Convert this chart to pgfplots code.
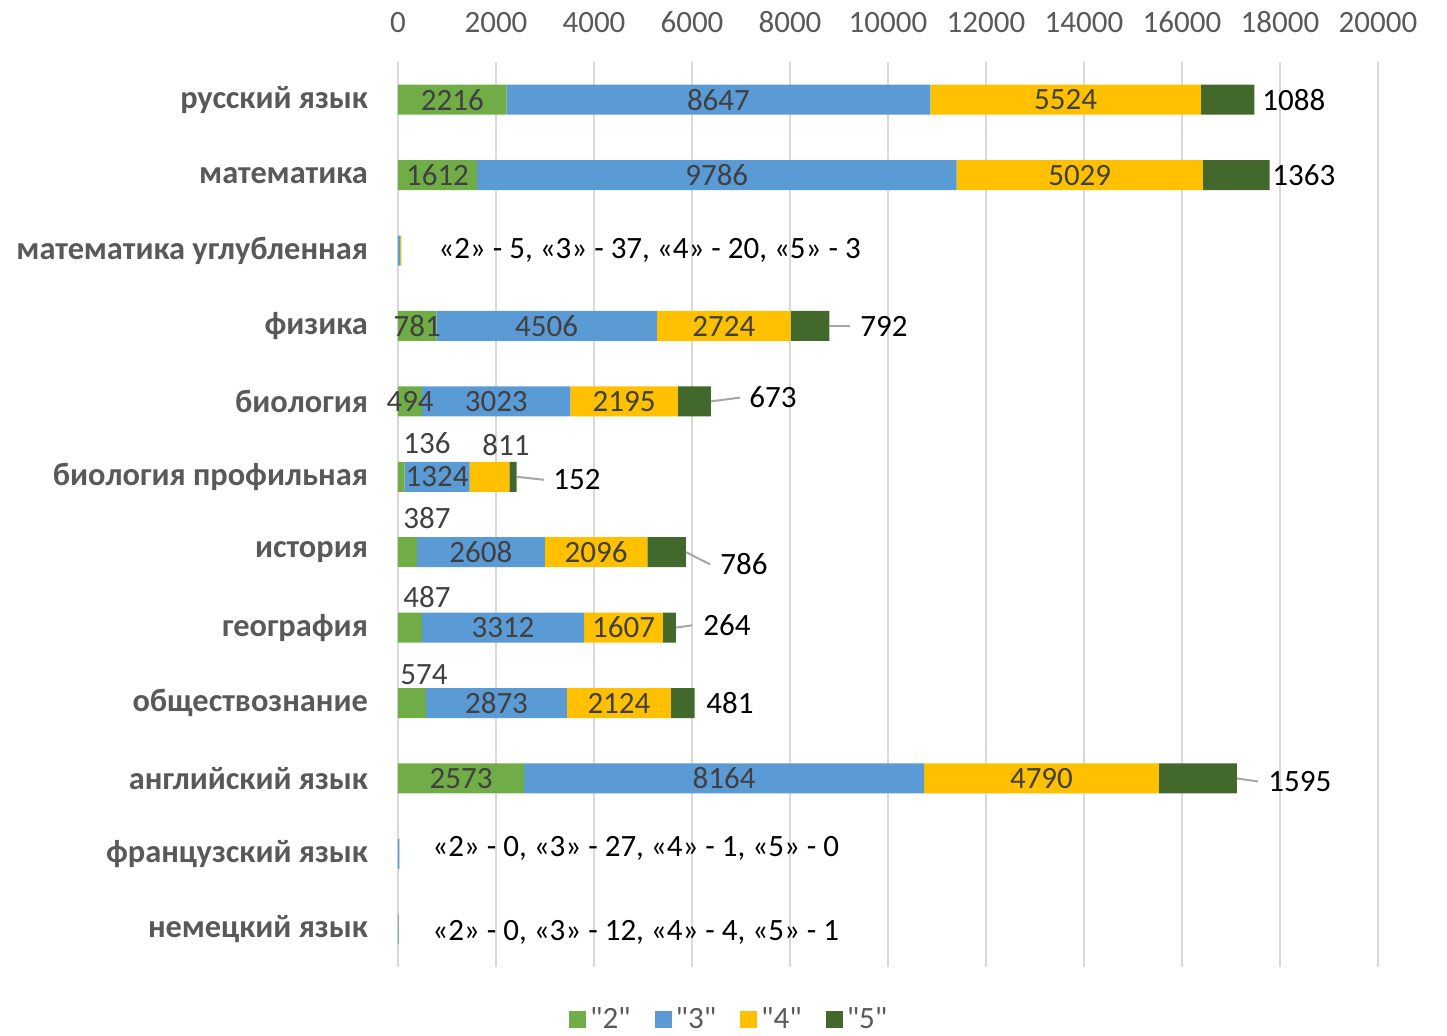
\documentclass[border=0pt]{standalone}
\usepackage{fontspec}
\setmainfont{Carlito}[Ligatures=TeXOff]
\usepackage{pgfplots}
\usepackage{pgfplotstable}
\pgfplotsset{compat=1.18}

\definecolor{cTwo}{HTML}{70AD47}
\definecolor{cThree}{HTML}{5B9BD5}
\definecolor{cFour}{HTML}{FFC000}
\definecolor{cFive}{HTML}{43682B}
\definecolor{gridc}{HTML}{D9D9D9}
\definecolor{tickc}{HTML}{595959}
\definecolor{labc}{HTML}{404040}
\definecolor{leadc}{HTML}{A6A6A6}

% marks per subject: "2" "3" "4" "5"
\pgfplotstableread{
y two three four five
0 2216 8647 5524 1088
1 1612 9786 5029 1363
2 5 37 20 3
3 781 4506 2724 792
4 494 3023 2195 673
5 136 1324 811 152
6 387 2608 2096 786
7 487 3312 1607 264
8 574 2873 2124 481
9 2573 8164 4790 1595
10 0 27 1 0
11 0 12 4 1
}\marks

% label positions (centre of segment)
\pgfplotstableread{
x y label
1108 0 2216
6539.5 0 8647
13625 0 5524
806 1 1612
6505 1 9786
13912.5 1 5029
390.5 3 781
3034 3 4506
6649 3 2724
247 4 494
2005.5 4 3023
4614.5 4 2195
798 5 1324
1691 6 2608
4043 6 2096
2143 7 3312
4602.5 7 1607
2010.5 8 2873
4509 8 2124
1286.5 9 2573
6655 9 8164
13132 9 4790
}\insidelabels

\pgfplotstableread{
x y label
592 4.55 136
2204 4.58 811
592 5.55 387
592 6.59 487
531 7.63 574
}\abovelabels

\pgfplotstableread{
x y label
17633 0 1088
17837 1 1363
9429 3 792
7163 3.95 673
3163 5.04 152
6571 6.16 786
6224 6.97 264
6286 8 481
17755 9.04 1595
}\rightlabels

\pgfplotstableread[col sep=semicolon]{
x;y;label
816;2;«2» - 5, «3» - 37, «4» - 20, «5» - 3
694;9.93;«2» - 0, «3» - 27, «4» - 1, «5» - 0
694;11.04;«2» - 0, «3» - 12, «4» - 4, «5» - 1
}\notes

\pgfplotsset{
  common/.style={
    scale only axis, width=490pt, height=452.5pt,
    xmin=0, xmax=20000, ymin=-0.5, ymax=11.5,
    enlargelimits=false, y dir=reverse,
    at={(199pt,-31pt)}, anchor=north west,
  },
  sq/.style={legend image code/.code={\fill[##1] (0pt,-4.25pt) rectangle (8.5pt,4.25pt);}},
}

\begin{document}
\begin{tikzpicture}
\path[use as bounding box] (0,0) rectangle (723.5pt,-518pt);
\begin{axis}[common,
    xbar stacked, bar width=15pt,
    font=\fontsize{15.5}{18}\selectfont,
    axis line style={draw=none},
    major tick length=0pt,
    xmajorgrids, major grid style={gridc, line width=1pt},
    xtick={0,2000,...,20000},
    scaled x ticks=false,
    xticklabel pos=upper,
    xticklabel style={text=tickc, yshift=11pt},
    /pgf/number format/.cd, set thousands separator={}, assume math mode=true, /pgfplots/.cd,
    ytick={0,...,11},
    yticklabels={русский язык, математика, математика углубленная, физика, биология, биология профильная, история, география, обществознание, английский язык, французский язык, немецкий язык},
    yticklabel style={text=tickc, font=\fontsize{16.2}{18}\selectfont\bfseries, xshift=-11.5pt},
    legend columns=4,
    legend style={at={(0.339,-0.058)}, anchor=center, draw=none, text=tickc,
      /tikz/every even column/.append style={column sep=10pt}},
  ]
\addplot[fill=cTwo, draw=none, sq] table[x=two, y=y] {\marks};
\addplot[fill=cThree, draw=none, sq] table[x=three, y=y] {\marks};
\addplot[fill=cFour, draw=none, sq] table[x=four, y=y] {\marks};
\addplot[fill=cFive, draw=none, sq] table[x=five, y=y] {\marks};
\legend{"2","3","4","5"}
\end{axis}
\begin{axis}[common, hide axis, clip=false,
    font=\fontsize{15.5}{18}\selectfont]
\addplot[leadc, line width=1pt, forget plot] coordinates {(8803,3) (9224,3)};
\addplot[leadc, line width=1pt, forget plot] coordinates {(6385,4) (6980,3.95)};
\addplot[leadc, line width=1pt, forget plot] coordinates {(2423,5) (2980,5.04)};
\addplot[leadc, line width=1pt, forget plot] coordinates {(5877,6) (6367,6.16)};
\addplot[leadc, line width=1pt, forget plot] coordinates {(5670,7) (6000,6.97)};
\addplot[leadc, line width=1pt, forget plot] coordinates {(17122,9) (17551,9.04)};
\addplot[draw=none, mark=none, nodes near coords, point meta=explicit symbolic,
    every node near coord/.append style={anchor=center, inner sep=0pt, text=labc}]
    table[x=x, y=y, meta=label] {\insidelabels};
\addplot[draw=none, mark=none, nodes near coords, point meta=explicit symbolic,
    every node near coord/.append style={anchor=center, inner sep=0pt, text=labc}]
    table[x=x, y=y, meta=label] {\abovelabels};
\addplot[draw=none, mark=none, nodes near coords, point meta=explicit symbolic,
    every node near coord/.append style={anchor=west, inner sep=0pt, text=black}]
    table[x=x, y=y, meta=label] {\rightlabels};
\addplot[draw=none, mark=none, nodes near coords, point meta=explicit symbolic,
    every node near coord/.append style={anchor=west, inner sep=0pt, text=black}]
    table[x=x, y=y, meta=label] {\notes};
\end{axis}
\end{tikzpicture}
\end{document}
